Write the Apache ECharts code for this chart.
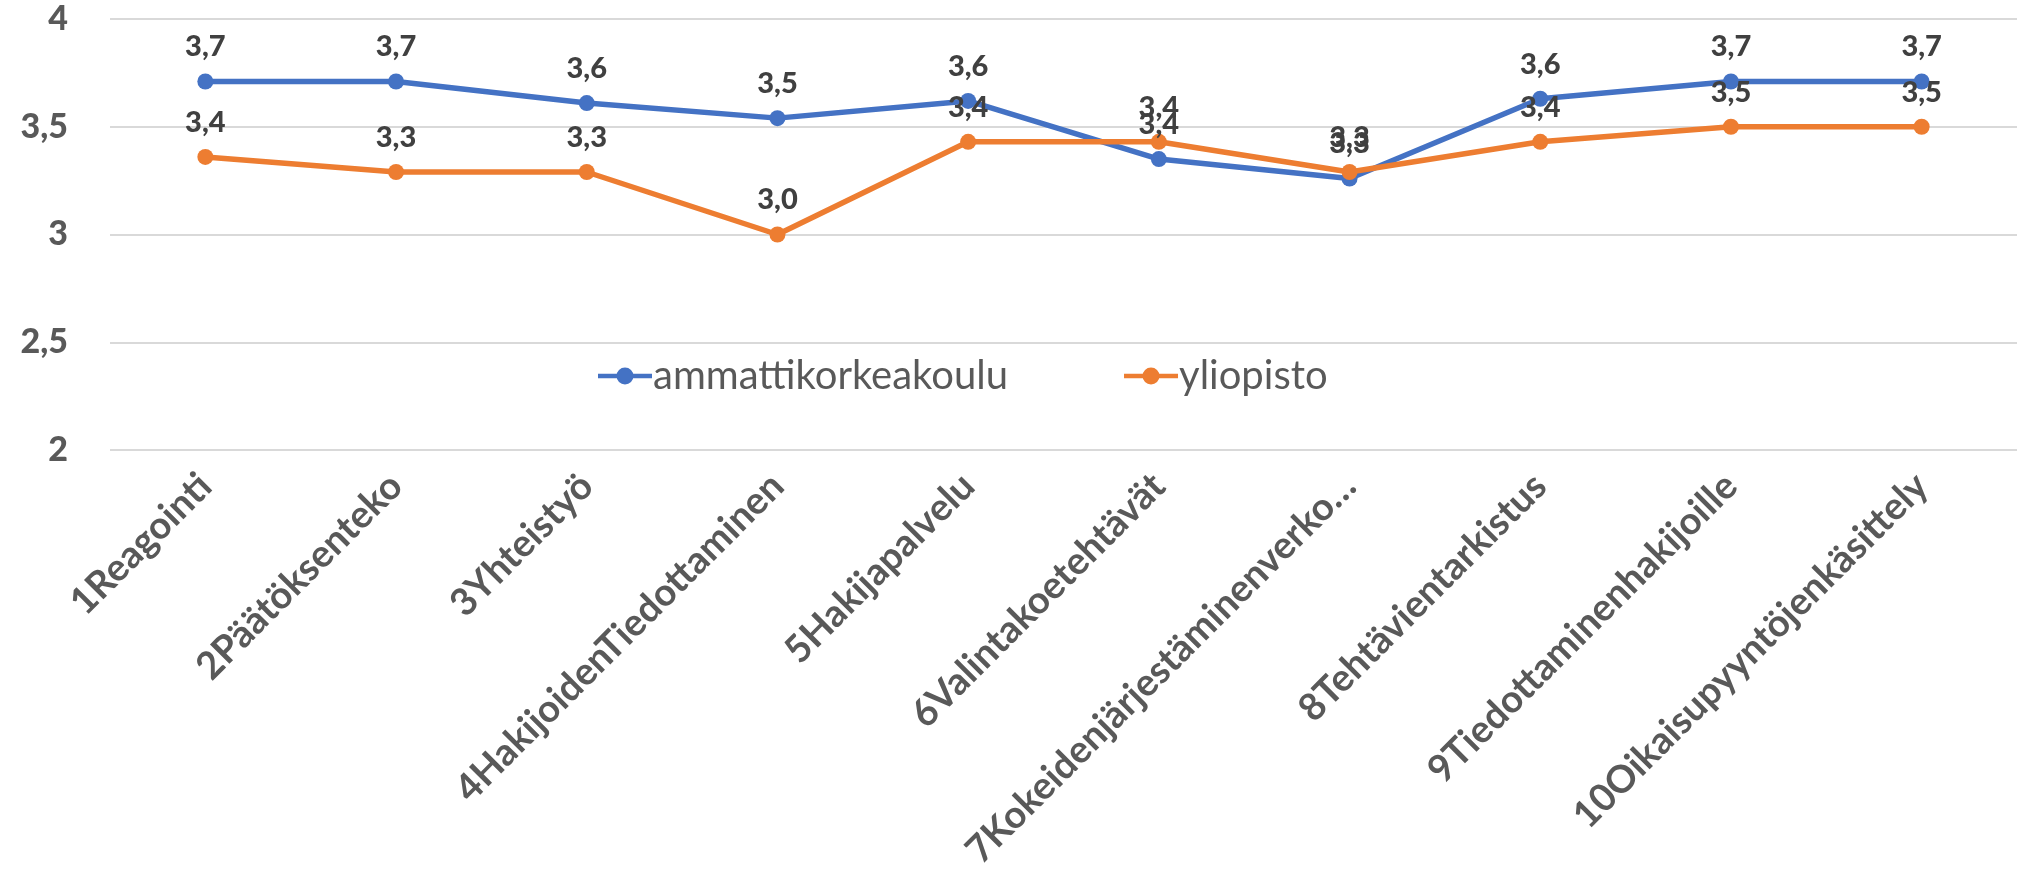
<!DOCTYPE html>
<html>
<head>
<meta charset="utf-8">
<script src="https://cdn.jsdelivr.net/npm/echarts@6/dist/echarts.min.js"></script>
<style>
  html, body { margin: 0; padding: 0; background: #fff; }
  #chart { width: 2017px; height: 880px; }
</style>
</head>
<body>
<div id="chart"></div>
<script>
// kategoriat ja arvot
var categories = [
  '1Reagointi',
  '2Päätöksenteko',
  '3Yhteistyö',
  '4HakijoidenTiedottaminen',
  '5Hakijapalvelu',
  '6Valintakoetehtävät',
  '7Kokeidenjärjestäminenverko…',
  '8Tehtävientarkistus',
  '9Tiedottaminenhakijoille',
  '10Oikaisupyyntöjenkäsittely'
];
var amk = [3.71, 3.71, 3.61, 3.54, 3.62, 3.35, 3.26, 3.63, 3.71, 3.71];
var yliopisto = [3.36, 3.29, 3.29, 3.00, 3.43, 3.43, 3.29, 3.43, 3.50, 3.50];
var yTicks = [2, 2.5, 3, 3.5, 4];

var fontFam = 'Lato, "Noto Sans", sans-serif';
// viiva + pallo selitteeseen
var legendIcon = 'path://M0,6.25L54,6.25L54,10.75L0,10.75Z M35.5,8.5A8.5,8.5,0,1,1,18.5,8.5A8.5,8.5,0,1,1,35.5,8.5Z';

function fmt(v) {
  return v.toFixed(1).replace('.', ',');
}

function lineSeries(name, data, color) {
  return {
    name: name,
    type: 'line',
    data: data,
    symbol: 'circle',
    symbolSize: 16,
    lineStyle: { width: 5.5, color: color },
    itemStyle: { color: color },
    label: {
      show: true,
      position: 'top',
      distance: 12,
      color: '#404040',
      fontFamily: fontFam,
      fontWeight: 900,
      fontSize: 29,
      formatter: function (p) { return fmt(p.value); }
    },
    animation: false
  };
}

var chart = echarts.init(document.getElementById('chart'));
chart.setOption({
  backgroundColor: '#fff',
  grid: { left: 110, right: 0, top: 19, bottom: 430, containLabel: false, outerBoundsMode: 'none' },
  legend: {
    left: 598,
    top: 356,
    padding: 0,
    icon: legendIcon,
    itemWidth: 54,
    itemHeight: 17,
    itemGap: 116,
    textStyle: { fontFamily: fontFam, fontSize: 40, color: '#595959', padding: [0, 0, 0, -4] },
    data: ['ammattikorkeakoulu', 'yliopisto']
  },
  xAxis: {
    type: 'category',
    data: categories,
    boundaryGap: true,
    axisLine: { show: false },
    axisTick: { show: false },
    axisLabel: {
      interval: 0,
      rotate: 45,
      margin: 30,
      color: '#595959',
      fontFamily: fontFam,
      fontWeight: 'bold',
      fontSize: 38
    }
  },
  yAxis: {
    type: 'value',
    min: yTicks[0],
    max: yTicks[yTicks.length - 1],
    interval: 0.5,
    splitLine: { lineStyle: { color: '#d9d9d9', width: 2 } },
    axisLine: { show: false },
    axisTick: { show: false },
    axisLabel: {
      margin: 42,
      color: '#595959',
      fontFamily: fontFam,
      fontWeight: 900,
      fontSize: 34,
      formatter: function (v) { return fmt(v).replace(',0', ''); }
    }
  },
  series: [
    lineSeries('ammattikorkeakoulu', amk, '#4472C4'),
    lineSeries('yliopisto', yliopisto, '#ED7D31')
  ]
});
</script>
</body>
</html>
